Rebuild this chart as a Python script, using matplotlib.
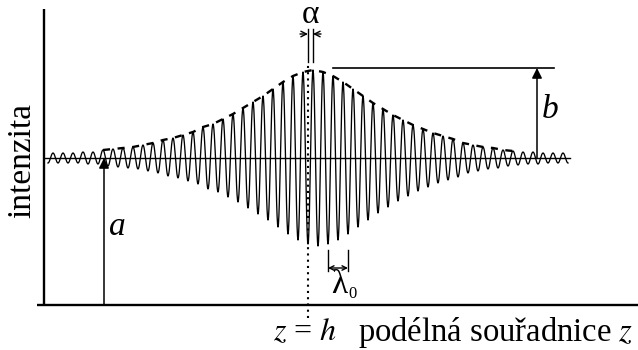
import matplotlib.pyplot as plt
import numpy as np

plt.rcParams['font.family'] = ['Liberation Serif', 'DejaVu Serif']

# intensity units: background level a, peak height b above it
a = 1.47
b = 0.88
h = 26.4          # position of the reference plane
alpha = 0.5       # shift of the central fringe from z = h
period = 1.0      # fringe spacing (lambda0 / 2)

# fringe amplitudes above the background, left to right (k = -26 ... 25)
fringe_amp = [0.05, 0.05, 0.05, 0.06, 0.06, 0.08, 0.09, 0.10, 0.11, 0.13,
              0.15, 0.18, 0.20, 0.23, 0.26, 0.31, 0.34, 0.39, 0.44, 0.50,
              0.56, 0.62, 0.69, 0.76, 0.82, 0.86,
              0.88,
              0.86, 0.82, 0.76, 0.69, 0.62, 0.55, 0.49, 0.43, 0.38, 0.33,
              0.29, 0.25, 0.22, 0.19, 0.15, 0.13, 0.11, 0.10, 0.08, 0.07,
              0.06, 0.06, 0.05, 0.05, 0.05]
fringe_k = np.arange(-26, 26)

fig = plt.figure(figsize=(6.38, 3.5), dpi=100)
ax = fig.add_axes([0, 0, 1, 1])
ax.set_xlim(-4.4, 59.4)
ax.set_ylim(-0.45, 3.05)
ax.axis('off')

# build the fringe curve half-cycle by half-cycle (peak -> trough -> peak)
peaks_z = h + alpha + fringe_k * period
amp = np.array(fringe_amp)
ext_z = [peaks_z[0] - period / 2]
ext_v = [a - amp[0]]
for zk, ak in zip(peaks_z, amp):
    ext_z += [zk, zk + period / 2]
    ext_v += [a + ak, a - ak]
zs, vs = [], []
t = np.linspace(0, 1, 12)
for i in range(len(ext_z) - 1):
    zs.append(ext_z[i] + (ext_z[i + 1] - ext_z[i]) * t)
    vs.append(ext_v[i] + (ext_v[i + 1] - ext_v[i]) * (1 - np.cos(np.pi * t)) / 2)
ax.plot(np.concatenate(zs), np.concatenate(vs), color='black', lw=0.95)

# dashed upper envelope
env = amp >= 0.07
ax.plot(peaks_z[env], a + amp[env], color='black', lw=1.7, ls=(0, (3, 3.2)))

# axes
ax.plot([0, 0], [0, 2.96], color='black', lw=1.7, solid_capstyle='butt')
ax.plot([-0.7, 59.4], [0, 0], color='black', lw=1.7, solid_capstyle='butt')
ax.plot([0, 52.6], [a, a], color='black', lw=1.0)

# reference plane z = h
ax.plot([h, h], [-0.13, 2.43], color='black', lw=1.5, ls=(0, (1, 2.0)))

arrow = dict(arrowstyle='->', color='black', lw=1.0, shrinkA=0, shrinkB=0,
             mutation_scale=10)
arrow_big = dict(arrowstyle='-|>', color='black', lw=1.1, shrinkA=0, shrinkB=0,
                 mutation_scale=15)

fs = 24

# a
ax.annotate('', xy=(6.0, a), xytext=(6.0, 0), arrowprops=arrow_big)
ax.text(7.3, 0.78, 'a', fontsize=fs, style='italic', ha='center', va='center')

# b
ax.plot([28.9, 51.0], [a + b + 0.02, a + b + 0.02], color='black', lw=1.2)
ax.annotate('', xy=(49.3, a + b + 0.02), xytext=(49.3, a), arrowprops=arrow_big)
ax.text(50.6, 1.95, 'b', fontsize=fs, style='italic', ha='center', va='center')

# alpha
for zx in (h, h + alpha):
    ax.plot([zx, zx], [2.43, 2.76], color='black', lw=1.0)
ax.annotate('', xy=(h, 2.71), xytext=(h - 0.8, 2.71), arrowprops=arrow)
ax.annotate('', xy=(h + alpha, 2.71), xytext=(h + alpha + 0.8, 2.71), arrowprops=arrow)
ax.text(h + 0.25, 2.9, 'α', fontsize=fs, ha='center', va='center')

# lambda0 (two fringes)
lz0 = h + alpha + 1.5
lz1 = lz0 + 2 * period
for zx in (lz0, lz1):
    ax.plot([zx, zx], [0.55, 0.34], color='black', lw=1.0)
ax.annotate('', xy=(lz0, 0.37), xytext=(lz1, 0.37),
            arrowprops=dict(arrowstyle='<->', color='black', lw=1.0,
                            shrinkA=0, shrinkB=0, mutation_scale=8))
ax.text(lz0 + 1.1, 0.2, 'λ', fontsize=fs, ha='center', va='center')
ax.text(lz0 + 2.45, 0.11, '0', fontsize=12, ha='center', va='center')

# axis labels
ax.text(h - 0.3, -0.28, '$z$ = $h$', fontsize=23, ha='center', va='center',
        math_fontfamily='stix')
ax.text(58.9, -0.28, 'podélná souřadnice $z$', fontsize=23.5, ha='right', va='center',
        math_fontfamily='stix')
ax.text(-2.2, 1.45, 'intenzita', fontsize=fs, rotation=90, ha='center', va='center')

fig.savefig('out.png', dpi=100)
